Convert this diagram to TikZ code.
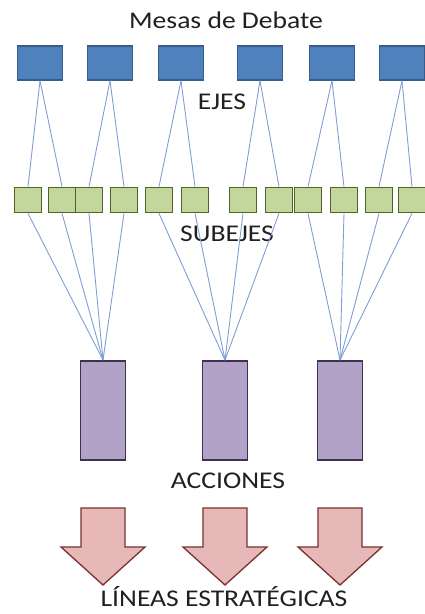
\documentclass[tikz,border=0pt]{standalone}
\usepackage{fontspec}
\setmainfont{Carlito}[FakeStretch=1.15]
\usepackage{tikz}
\usepackage{xcolor}

\definecolor{ejeazul}{HTML}{4F81BD}
\definecolor{ejeborde}{HTML}{385D8A}
\definecolor{subverde}{HTML}{C3D69B}
\definecolor{subborde}{HTML}{4F6228}
\definecolor{accmorado}{HTML}{B3A2C7}
\definecolor{accborde}{HTML}{3F3151}
\definecolor{flerosa}{HTML}{E6B9B8}
\definecolor{fleborde}{HTML}{7A302E}
\definecolor{enlazul}{HTML}{7F9ED6}
\definecolor{texto}{HTML}{202020}

\begin{document}
\begin{tikzpicture}[x=1pt, y=-1pt,
    rotulo/.style={text=texto, font=\fontsize{24}{28}\selectfont, inner sep=0pt},
    eje/.style={draw=ejeborde, fill=ejeazul, line width=1.3pt, minimum width=45pt, minimum height=34pt, inner sep=0pt},
    subeje/.style={draw=subborde, fill=subverde, line width=1.8pt, minimum width=27pt, minimum height=25pt, inner sep=0pt},
    accion/.style={draw=accborde, fill=accmorado, line width=1.8pt, minimum width=45pt, minimum height=99pt, inner sep=0pt},
    enlace/.style={draw=enlazul, line width=0.9pt},
    flecha/.style={draw=fleborde, fill=flerosa, line width=1.3pt, line join=miter}]
    \useasboundingbox (0,0) rectangle (424,614);

    \node[rotulo] (titulo) at (226,20) {Mesas de Debate};
    \node[rotulo] (ejes) at (222,102) {EJES};
    \node[rotulo] (subejes) at (227,234) {SUBEJES};
    \node[rotulo] (acciones) at (228,481) {ACCIONES};
    \node[rotulo, anchor=base] (lineas) at (224,606) {LÍNEAS ESTRATÉGICAS};

    % ejes, subejes y acciones
    \foreach \x [count=\i] in {40,110,181,260,332,402}
    \node[eje] (e\i) at (\x,63) {};
    \foreach \x [count=\i] in {28,62,89,124,159,195,243,279,308,344,379,412}
    \node[subeje] (s\i) at (\x,200) {};
    \foreach \x [count=\i] in {103,225,340}
    \node[accion] (a\i) at (\x,410.5) {};

    \foreach \e/\s in {1/1, 1/2, 2/3, 2/4, 3/5, 3/6, 4/7, 4/8, 5/9, 5/10, 6/11, 6/12}
    \draw[enlace] (e\e.south) -- (s\s.north);

    \foreach \s/\a in {1/1, 2/1, 3/1, 4/1, 5/2, 6/2, 7/2, 8/2, 9/3, 10/3, 11/3, 12/3}
    \draw[enlace] (s\s.south) -- (a\a.north);

    % flechas
    \foreach \x in {103,225,340}
    \draw[flecha] (\x-22,508) -- (\x+22,508) -- (\x+22,547) -- (\x+42,547)
        -- (\x,585) -- (\x-42,547) -- (\x-22,547) -- cycle;
\end{tikzpicture}
\end{document}
